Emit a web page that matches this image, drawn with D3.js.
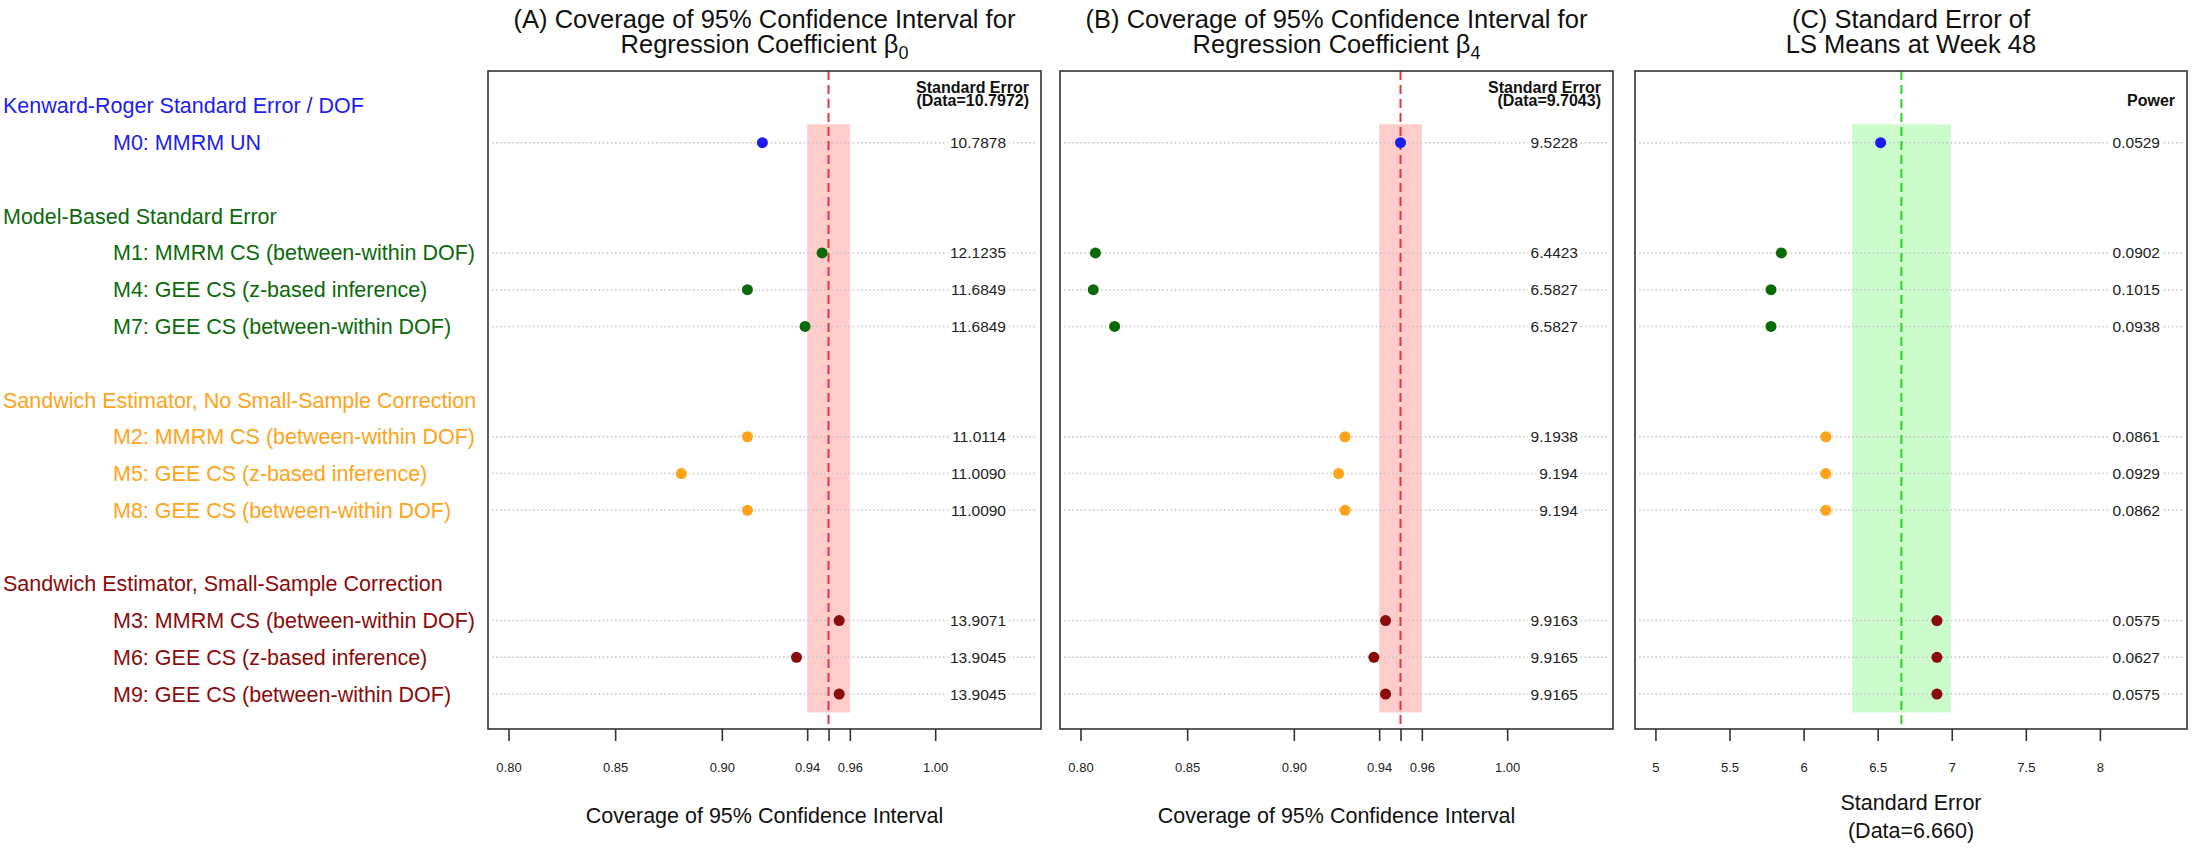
<!DOCTYPE html>
<html>
<head>
<meta charset="utf-8">
<script src="https://cdn.jsdelivr.net/npm/d3@7"></script>
<style>
  body { margin: 0; background: #fff; }
  text { font-family: "Liberation Sans", Arial, sans-serif; }
</style>
</head>
<body>
<script>
// Simulation summary: coverage of 95% CIs and SE of LS means, by method
var groupNames = [
  "Kenward-Roger Standard Error / DOF",
  "Model-Based Standard Error",
  "Sandwich Estimator, No Small-Sample Correction",
  "Sandwich Estimator, Small-Sample Correction"
];
var groupColors = ["#1c1cf0", "#0a6a0a", "#ffa31a", "#8b0a0a"];

var methodLabels = [
  "M0: MMRM UN",
  "M1: MMRM CS (between-within DOF)",
  "M4: GEE CS (z-based inference)",
  "M7: GEE CS (between-within DOF)",
  "M2: MMRM CS (between-within DOF)",
  "M5: GEE CS (z-based inference)",
  "M8: GEE CS (between-within DOF)",
  "M3: MMRM CS (between-within DOF)",
  "M6: GEE CS (z-based inference)",
  "M9: GEE CS (between-within DOF)"
];
var methodGroup = [0, 1, 1, 1, 2, 2, 2, 3, 3, 3];

var coverageB0 = [0.919, 0.947, 0.912, 0.939, 0.912, 0.881, 0.912, 0.955, 0.935, 0.955];
var seB0 = ["10.7878", "12.1235", "11.6849", "11.6849", "11.0114", "11.0090", "11.0090", "13.9071", "13.9045", "13.9045"];

var coverageB4 = [0.950, 0.807, 0.806, 0.816, 0.924, 0.921, 0.924, 0.943, 0.9375, 0.943];
var seB4 = ["9.5228", "6.4423", "6.5827", "6.5827", "9.1938", "9.194", "9.194", "9.9163", "9.9165", "9.9165"];

var seWeek48 = [6.52, 5.85, 5.78, 5.78, 6.15, 6.15, 6.15, 6.90, 6.90, 6.90];
var power = ["0.0529", "0.0902", "0.1015", "0.0938", "0.0861", "0.0929", "0.0862", "0.0575", "0.0627", "0.0575"];

var coverageTicks = [0.80, 0.85, 0.90, 0.94, 0.95, 0.96, 1.00];
var seTicks = [5, 5.5, 6, 6.5, 7, 7.5, 8];
var seData = 6.660;

var width = 2192, height = 848,
    boxTop = 71, boxBottom = 729;

var svg = d3.select("body").append("svg")
    .attr("width", width)
    .attr("height", height);

// row layout: group header row, its methods, a blank row
var headerRows = [], methodRows = [], r = 0;
groupNames.forEach(function(g, gi) {
  headerRows.push(r++);
  methodGroup.forEach(function(mg, mi) { if (mg === gi) methodRows[mi] = r++; });
  r++;
});

var y = d3.scaleLinear().domain([-0.95, 16.95]).range([boxTop, boxBottom]);

// left-hand labels
svg.selectAll(".group-label")
    .data(groupNames)
  .enter().append("text")
    .attr("class", "group-label")
    .attr("x", 3)
    .attr("y", function(d, i) { return y(headerRows[i]); })
    .attr("dy", ".35em")
    .style("font-size", "21.5px")
    .style("fill", function(d, i) { return groupColors[i]; })
    .text(function(d) { return d; });

svg.selectAll(".method-label")
    .data(methodLabels)
  .enter().append("text")
    .attr("class", "method-label")
    .attr("x", 113)
    .attr("y", function(d, i) { return y(methodRows[i]); })
    .attr("dy", ".35em")
    .style("font-size", "21.5px")
    .style("fill", function(d, i) { return groupColors[methodGroup[i]]; })
    .text(function(d) { return d; });

var panels = [
  {x0: 488, x1: 1041, domain: [0.7904, 1.0496], values: coverageB0, labels: seB0,
   ticks: coverageTicks, ref: 0.95, band: [0.94, 0.96], bandColor: "#ffcccc", refColor: "#e8353a",
   title: ["(A) Coverage of 95% Confidence Interval for", "Regression Coefficient β", "0"],
   head: ["Standard Error", "(Data=10.7972)"], valueRight: 1006,
   xlab: ["Coverage of 95% Confidence Interval"]},
  {x0: 1060, x1: 1613, domain: [0.7904, 1.0496], values: coverageB4, labels: seB4,
   ticks: coverageTicks, ref: 0.95, band: [0.94, 0.96], bandColor: "#ffcccc", refColor: "#e8353a",
   title: ["(B) Coverage of 95% Confidence Interval for", "Regression Coefficient β", "4"],
   head: ["Standard Error", "(Data=9.7043)"], valueRight: 1578,
   xlab: ["Coverage of 95% Confidence Interval"]},
  {x0: 1635, x1: 2187, domain: [4.862, 8.588], values: seWeek48, labels: power,
   ticks: seTicks, ref: seData, band: [seData * 0.95, seData * 1.05], bandColor: "#ccfccc", refColor: "#2ad42a",
   title: ["(C) Standard Error of", "LS Means at Week 48", ""],
   head: ["Power"], valueRight: 2160,
   xlab: ["Standard Error", "(Data=6.660)"]}
];

panels.forEach(function(p) {
  var x = d3.scaleLinear().domain(p.domain).range([p.x0, p.x1]);
  var g = svg.append("g");
  var cx = (p.x0 + p.x1) / 2;

  // title
  var t = g.append("text")
      .attr("text-anchor", "middle")
      .style("font-size", "25.5px")
      .style("fill", "#111");
  t.append("tspan").attr("x", cx).attr("y", 28).text(p.title[0]);
  t.append("tspan").attr("x", cx).attr("y", 53).text(p.title[1]);
  if (p.title[2]) {
    t.append("tspan").attr("dy", 6).style("font-size", "18px").text(p.title[2]);
  }

  // band and reference line
  g.append("rect")
      .attr("x", x(p.band[0]))
      .attr("width", x(p.band[1]) - x(p.band[0]))
      .attr("y", y(0.5))
      .attr("height", y(16.5) - y(0.5))
      .style("fill", p.bandColor);

  // dotted guide lines
  g.selectAll(".guide")
      .data(p.values)
    .enter().append("line")
      .attr("x1", p.x0 + 4)
      .attr("x2", p.x1 - 4)
      .attr("y1", function(d, i) { return y(methodRows[i]); })
      .attr("y2", function(d, i) { return y(methodRows[i]); })
      .style("stroke", "#c4c4c4")
      .style("stroke-width", 1.5)
      .style("stroke-dasharray", "1.5,2.6");

  g.append("line")
      .attr("x1", x(p.ref)).attr("x2", x(p.ref))
      .attr("y1", boxTop).attr("y2", boxBottom)
      .style("stroke", p.refColor)
      .style("stroke-width", 2)
      .style("stroke-dasharray", "9,5");

  // value labels on the right
  g.selectAll(".val")
      .data(p.labels)
    .enter().append("text")
      .attr("x", p.valueRight)
      .attr("y", function(d, i) { return y(methodRows[i]); })
      .attr("dy", ".35em")
      .attr("text-anchor", "end")
      .style("font-size", "15.5px")
      .style("fill", "#222")
      .style("stroke", "#fff")
      .style("stroke-width", 7)
      .style("paint-order", "stroke")
      .text(function(d) { return d; });

  g.selectAll(".head")
      .data(p.head)
    .enter().append("text")
      .attr("x", p.x1 - 12)
      .attr("y", function(d, i) { return (p.head.length > 1 ? 87 : 100) + i * 13.5; })
      .attr("dy", ".35em")
      .attr("text-anchor", "end")
      .style("font-size", "16px")
      .style("font-weight", "bold")
      .style("fill", "#111")
      .text(function(d) { return d; });

  // points
  g.selectAll(".dot")
      .data(p.values)
    .enter().append("circle")
      .attr("cx", function(d) { return x(d); })
      .attr("cy", function(d, i) { return y(methodRows[i]); })
      .attr("r", 5.5)
      .style("fill", function(d, i) { return groupColors[methodGroup[i]]; });

  // box
  g.append("rect")
      .attr("x", p.x0).attr("y", boxTop)
      .attr("width", p.x1 - p.x0).attr("height", boxBottom - boxTop)
      .style("fill", "none")
      .style("stroke", "#333")
      .style("stroke-width", 1.6);

  // axis
  var axis = d3.axisBottom(x)
      .tickValues(p.ticks)
      .tickSize(12)
      .tickPadding(22)
      .tickFormat(function(d) {
        if (p.ticks === coverageTicks) return d === 0.95 ? "" : d3.format(".2f")(d);
        return d3.format("")(d);
      });
  var ax = g.append("g")
      .attr("transform", "translate(0," + boxBottom + ")")
      .call(axis);
  ax.select(".domain").remove();
  ax.selectAll("line").style("stroke", "#333").style("stroke-width", 1.6);
  ax.selectAll("text")
      .style("font-family", "'Liberation Sans', Arial, sans-serif")
      .style("font-size", "13px")
      .style("fill", "#222");

  g.selectAll(".xlab")
      .data(p.xlab)
    .enter().append("text")
      .attr("x", cx)
      .attr("y", function(d, i) { return (p.xlab.length > 1 ? 802 : 815) + i * 28; })
      .attr("dy", ".35em")
      .attr("text-anchor", "middle")
      .style("font-size", "21.5px")
      .style("fill", "#111")
      .text(function(d) { return d; });
});
</script>
</body>
</html>
